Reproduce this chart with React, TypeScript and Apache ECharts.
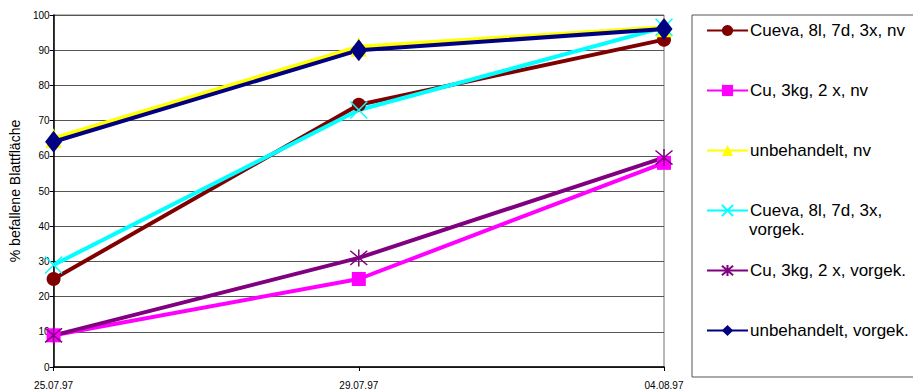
import React, { useEffect, useRef } from "react";
import * as echarts from "echarts";

const categories = ["25.07.97", "29.07.97", "04.08.97"];
const seriesNames = [
  "Cueva, 8l, 7d, 3x, nv",
  "Cu, 3kg, 2 x, nv",
  "unbehandelt, nv",
  "Cueva, 8l, 7d, 3x, vorgek.",
  "Cu, 3kg, 2 x, vorgek.",
  "unbehandelt, vorgek.",
];
const cuevaNv = [25, 74.5, 93];
const cuNv = [9, 25, 58];
const unbehandeltNv = [65, 91, 96.5];
const cuevaVorgek = [29, 73, 96.5];
const cuVorgek = [9, 31, 59.5];
const unbehandeltVorgek = [64, 90, 96];
const yTicks = { min: 0, max: 100, interval: 10 };
const yAxisName = "% befallene Blattfläche";

const FONT = "Liberation Sans, Arial, sans-serif";
const CROSS = "path://M0,0L10,10M10,0L0,10";
const STAR = "path://M0,0L10,10M10,0L0,10M5,-1L5,11";

export default function App() {
  const ref = useRef<HTMLDivElement>(null);
  useEffect(() => {
    if (!ref.current) return;
    const chart = echarts.init(ref.current, undefined, { renderer: "svg" });
    const mk = (
      name: string,
      data: number[],
      color: string,
      symbol: string,
      symbolSize: number | number[],
      stroke = false
    ) => ({
      name,
      type: "line",
      data,
      symbol,
      symbolSize,
      showSymbol: true,
      lineStyle: { color, width: 4 },
      itemStyle: stroke
        ? { color: "rgba(0,0,0,0)", borderColor: color, borderWidth: 1.5 }
        : { color, borderWidth: 0 },
      emphasis: { disabled: true },
    });
    chart.setOption({
      animation: false,
      grid: {
        left: 52,
        right: 249,
        top: 15,
        bottom: 25,
        show: true,
        borderColor: "#707070",
        borderWidth: 1,
      },
      legend: {
        orient: "vertical",
        left: 692,
        top: 15,
        padding: [7, 30, 38, 14],
        itemWidth: 41,
        itemHeight: 14,
        itemGap: 43,
        borderColor: "#555",
        borderWidth: 1,
        textStyle: {
          fontFamily: FONT,
          fontSize: 17,
          color: "#000",
          lineHeight: 14,
          padding: [0, 0, 0, -3],
        },
        formatter: (n: string) => (n === seriesNames[3] ? "Cueva, 8l, 7d, 3x," : n),
        data: seriesNames,
      },
      graphic: [
        {
          type: "text",
          left: 749,
          top: 221,
          style: { text: "vorgek.", font: `17px ${FONT}`, fill: "#000" },
        },
      ],
      xAxis: {
        type: "category",
        data: categories,
        boundaryGap: false,
        axisLine: { lineStyle: { color: "#000", width: 1.5 } },
        axisTick: { show: true, length: 4, lineStyle: { color: "#000" } },
        axisLabel: { fontFamily: FONT, fontSize: 10, color: "#000", margin: 13 },
      },
      yAxis: {
        type: "value",
        min: yTicks.min,
        max: yTicks.max,
        interval: yTicks.interval,
        name: yAxisName,
        nameLocation: "middle",
        nameGap: 26,
        nameTextStyle: { fontFamily: FONT, fontSize: 14, color: "#000" },
        axisLine: { show: true, lineStyle: { color: "#000", width: 1.5 } },
        axisTick: { show: true, length: 4, lineStyle: { color: "#000" } },
        axisLabel: { fontFamily: FONT, fontSize: 10, color: "#000", margin: 4 },
        splitLine: { lineStyle: { color: "#555", width: 1 } },
      },
      series: [
        mk(seriesNames[0], cuevaNv, "#800000", "circle", 14),
        mk(seriesNames[1], cuNv, "#FF00FF", "rect", 14),
        mk(seriesNames[2], unbehandeltNv, "#FFFF00", "triangle", [16, 20]),
        mk(seriesNames[3], cuevaVorgek, "#00FFFF", CROSS, 17, true),
        mk(seriesNames[4], cuVorgek, "#800080", STAR, 17, true),
        mk(seriesNames[5], unbehandeltVorgek, "#000080", "diamond", [17, 22]),
      ],
    });
    return () => chart.dispose();
  }, []);
  return <div ref={ref} style={{ width: 913, height: 392, position: "absolute", left: 0, top: 0 }} />;
}
